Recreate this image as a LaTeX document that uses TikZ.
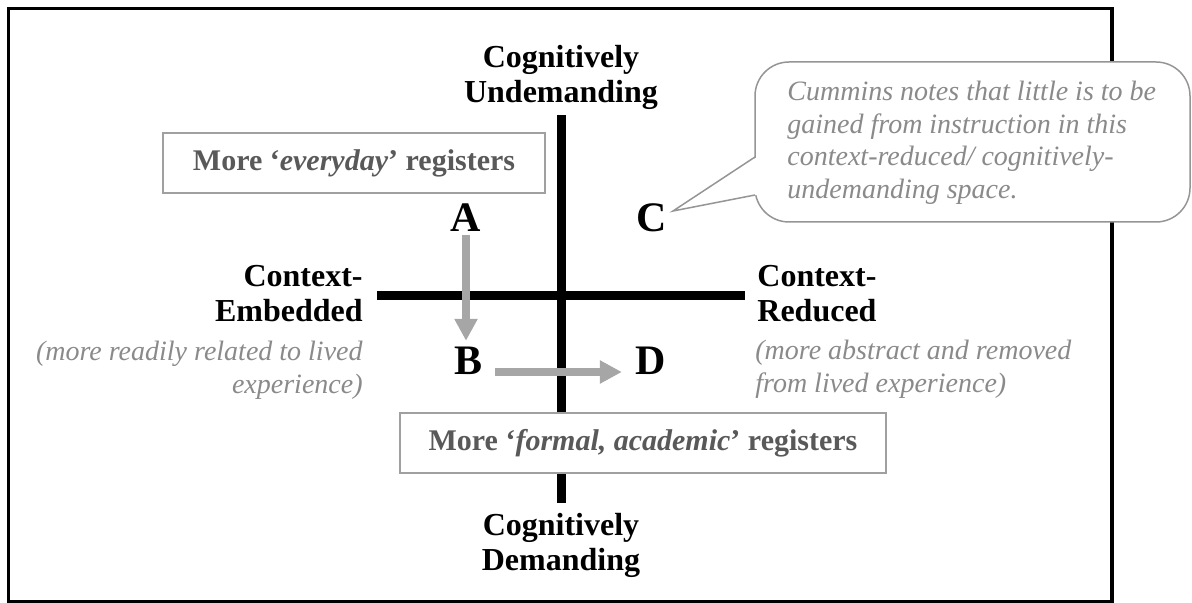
\documentclass[tikz,border=0pt]{standalone}
\usepackage{fontspec}
\setmainfont{Liberation Serif}
\usetikzlibrary{arrows.meta}

\definecolor{regtext}{HTML}{595959}
\definecolor{regframe}{HTML}{A0A0A0}
\definecolor{notegray}{HTML}{8A8A8A}
\definecolor{flowgray}{HTML}{A6A6A6}
\definecolor{bubblegray}{HTML}{959595}

\begin{document}
\begin{tikzpicture}[x=0.5pt,y=-0.5pt,
    axis/.style={line width=4.5pt},
    pole/.style={font=\fontsize{16}{17.5}\selectfont\bfseries, inner sep=0pt, align=center},
    aside/.style={font=\fontsize{14}{16.5}\selectfont\itshape, text=notegray, inner sep=0pt},
    regbox/.style={draw=regframe, line width=0.75pt, fill=white, minimum height=30pt,
        font=\fontsize{15}{18}\selectfont\bfseries, text=regtext},
    quad/.style={font=\fontsize{21}{24}\selectfont\bfseries, inner sep=0pt},
    flow/.style={draw=flowgray, line width=4pt, -{Triangle[length=11pt,width=11pt]}},
    bubble/.style={draw=bubblegray, line width=0.75pt}]
    \useasboundingbox (0,0) rectangle (1192,603);

    % outer frame
    \draw[line width=1.75pt] (8.5,8.5) rectangle (1112,601.5);

    % the two axes
    \draw[axis] (561,115) -- (561,503);
    \draw[axis] (377,296) -- (745,296);

    % labels at the axis ends
    \node[pole] (undem) at (561,77) {Cognitively\\Undemanding};
    \node[pole] (dem) at (561,545) {Cognitively\\Demanding};
    \node[pole, anchor=east, align=right] (embed) at (363,294) {Context-\\Embedded};
    \node[pole, anchor=west, align=left] (reduced) at (757,294) {Context-\\Reduced};

    \node[aside, anchor=east, align=right] (embednote) at (363,370)
        {(more readily related to lived\\experience)};
    \node[aside, anchor=west, align=left] (reducednote) at (755,369)
        {(more abstract and removed\\from lived experience)};

    % register boxes
    \node[regbox, minimum width=191pt] (everyday) at (354,163)
        {More `\textit{everyday}' registers};
    \node[regbox, minimum width=243pt] (formal) at (643,443)
        {More `\textit{formal, academic}' registers};

    % quadrants
    \node[quad] (A) at (466,217.5) {A};
    \node[quad] (C) at (652,218) {C};
    \node[quad] (B) at (468,361) {B};
    \node[quad] (D) at (651,361) {D};

    \draw[flow, shorten <=1.5pt, shorten >=3pt] (A.south) -- (A.south |- B.north);
    \draw[flow, shorten <=6.3pt, shorten >=6.8pt] ([yshift=-5.5pt]B.east) -- ([yshift=-5.5pt]D.west);

    % speech bubble for quadrant C
    \coordinate (tip) at (673,211);
    \draw[bubble, fill=white, rounded corners=17pt] (755,62) rectangle (1190,222);
    \fill[white] (757,157) -- (tip) -- (757,195) -- cycle;
    \draw[bubble] (755,157) -- (tip) -- (755,195);
    \node[aside, anchor=west, align=left, font=\fontsize{14}{16.25}\selectfont\itshape] (cummins) at (787,143)
        {Cummins notes that little is to be\\gained from instruction in this\\context-reduced/ cognitively-\\undemanding space.};
\end{tikzpicture}
\end{document}
